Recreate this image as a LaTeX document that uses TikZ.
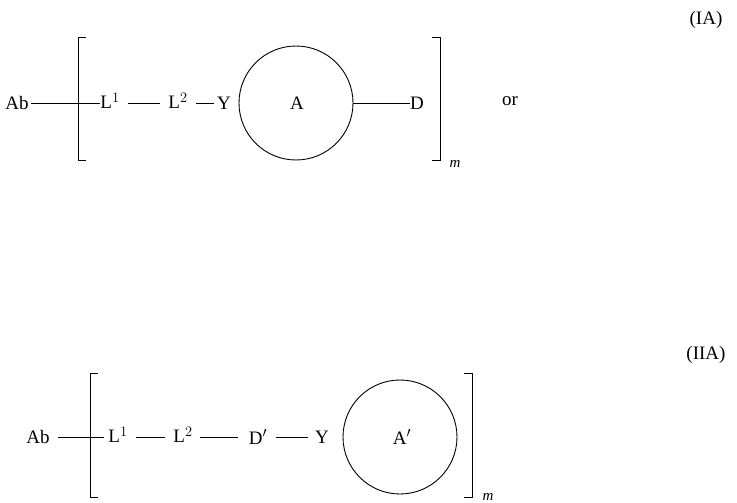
\documentclass[tikz,border=0pt]{standalone}
\usepackage{fontspec}
\setmainfont{Liberation Serif}
\begin{document}
\begin{tikzpicture}[x=1pt,y=-1pt,
  t/.style={inner sep=0pt,font=\fontsize{19}{22}\selectfont},
  ln/.style={line width=0.9pt}]
\useasboundingbox (0,0) rectangle (737,503);
% IA
\node[t] (ia) at (706,20) {(IA)};
\node[t] (ab1) at (17,103) {Ab};
\node[t] (l11) at (110,101) {L$^1$};
\node[t] (l21) at (178,101) {L$^2$};
\node[t] (y1) at (224,103) {Y};
\node[t] (a1) at (297,103) {A};
\node[t] (d1) at (417,103) {D};
\node[t] (or) at (510,101) {or};
\node[t,font=\fontsize{15}{18}\selectfont\itshape] (m1) at (455,164) {m};
\draw[ln] (ab1.east) ++(2,0) coordinate (s1) -- (l11.west |- s1);
\draw[ln] (86,37) -- (78,37) -- (78,160) -- (86,160);
\draw[ln] (432,37) -- (440,37) -- (440,160) -- (432,160);
\draw[ln] (128,103) -- (160,103);
\draw[ln] (196,103) -- (214,103);
\node[draw,circle,ln,minimum size=114pt] (c1) at (296,103) {};
\draw[ln] (c1.east) -- (d1.west);
% IIA
\node[t] (iia) at (706,355) {(IIA)};
\node[t] (ab2) at (38,437) {Ab};
\node[t] (l12) at (118,435) {L$^1$};
\node[t] (l22) at (183,435) {L$^2$};
\node[t] (d2) at (258,437) {D$'$};
\node[t] (y2) at (322,437) {Y};
\node[t] (a2) at (402,437) {A$'$};
\node[t,font=\fontsize{15}{18}\selectfont\itshape] (m2) at (488,497) {m};
\node[draw,circle,ln,minimum size=114pt] (c2) at (400,437) {};
\draw[ln] (58,437) -- (104,437);
\draw[ln] (98,373) -- (90,373) -- (90,497) -- (98,497);
\draw[ln] (464,373) -- (472,373) -- (472,497) -- (464,497);
\draw[ln] (136,437) -- (165,437);
\draw[ln] (200,437) -- (238,437);
\draw[ln] (276,437) -- (308,437);
\end{tikzpicture}
\end{document}
